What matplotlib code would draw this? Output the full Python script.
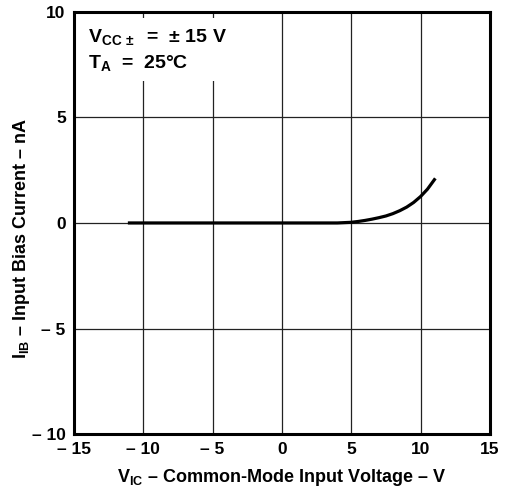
import matplotlib
matplotlib.use("Agg")
import matplotlib.pyplot as plt

plt.rcParams['font.family'] = ['Liberation Sans', 'DejaVu Sans']
plt.rcParams['font.weight'] = 'bold'
plt.rcParams['mathtext.fontset'] = 'custom'
plt.rcParams['mathtext.rm'] = 'Liberation Sans:bold'
plt.rcParams['mathtext.it'] = 'Liberation Sans:bold'
plt.rcParams['mathtext.bf'] = 'Liberation Sans:bold'

# Input bias current vs common-mode input voltage
vic = [-11, -5, 0, 4, 5, 5.5, 6, 6.5, 7, 7.5, 8, 8.5, 9, 9.5, 10, 10.5, 11]
iib = [0, 0, 0, 0, 0.03, 0.07, 0.12, 0.18, 0.25, 0.33, 0.44, 0.58, 0.75, 0.97, 1.25, 1.6, 2.05]

xticks = [-15, -10, -5, 0, 5, 10, 15]
yticks = [-10, -5, 0, 5, 10]

DASH = '\u2013'


def dash_label(v):
    return DASH + ' %d' % abs(v) if v < 0 else '%d' % v


fig = plt.figure(figsize=(5.14, 4.9), dpi=100)
ax = fig.add_axes([0.144, 0.114, 0.809, 0.862])

ax.plot(vic, iib, color='black', linewidth=2.3, zorder=3)

ax.set_xlim(-15, 15)
ax.set_ylim(-10, 10)
ax.set_xticks(xticks)
ax.set_yticks(yticks)
ax.set_xticklabels([dash_label(v) for v in xticks], fontsize=12.5, fontweight='bold')
ax.set_yticklabels([dash_label(v) for v in yticks], fontsize=12.5, fontweight='bold')
ax.tick_params(length=0, pad=6)
ax.grid(True, color='#222222', linewidth=0.9)
for s in ax.spines.values():
    s.set_linewidth(2.2)

ax.set_xlabel(r'$\mathrm{V_{IC}}$ ' + DASH + ' Common-Mode Input Voltage ' + DASH + ' V',
              fontsize=13, fontweight='bold', labelpad=7)
ax.set_ylabel(r'$\mathrm{I_{IB}}$ ' + DASH + ' Input Bias Current ' + DASH + ' nA',
              fontsize=13, fontweight='bold')
ax.yaxis.set_label_coords(-0.1, 0.464)

ax.text(-14.0, 9.3, r'$\mathrm{V_{CC\,\pm}}$  =  ' + '\u00b1 15 V' + '\n' +
        r'$\mathrm{T_A}$  =  25' + '\u00b0C',
        fontsize=14, fontweight='bold', va='top', ha='left', linespacing=1.4,
        bbox=dict(facecolor='white', edgecolor='none', pad=6), zorder=4)

fig.savefig('out.png', dpi=100)
